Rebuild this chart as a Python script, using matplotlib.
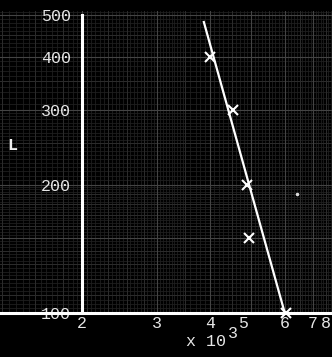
import numpy as np
import matplotlib
matplotlib.use("Agg")
import matplotlib.pyplot as plt
from matplotlib.transforms import ScaledTranslation

# Data
x_points = [4.0, 4.53, 4.89, 4.94, 6.04]      # x 10^3
l_points = [400, 300, 200, 150, 100]
fit_x = [3.87, 6.0]
fit_l = [482, 100]
speck_x = [6.41]
speck_l = [190]

x_ticks = [2, 3, 4, 5, 6, 7]
x_ticklabels = ["2", "3", "4", "5", "6", "7"]
y_ticks = [100, 200, 300, 400, 500]
y_ticklabels = ["100", "200", "300", "400", "500"]

W, H = 332, 357
fig = plt.figure(figsize=(W / 100, H / 100), dpi=100, facecolor="black")

# axes geometry (pixels): x=2 at px 82, 425 px/decade; y=100 at px 313, 426 px/decade
px_dec_x, px_dec_y = 425.0, 426.0
left_px, right_px = 0, 352
top_px, bot_px = 11, 313
x_lo = 2 * 10 ** ((left_px - 82) / px_dec_x)
x_hi = 2 * 10 ** ((right_px - 82) / px_dec_x)
y_lo = 100
y_hi = 100 * 10 ** ((bot_px - top_px) / px_dec_y)

ax = fig.add_axes([left_px / W, (H - bot_px) / H, (right_px - left_px) / W, (bot_px - top_px) / H])
ax.set_facecolor("black")
ax.set_xscale("log")
ax.set_yscale("log")
ax.set_xlim(x_lo, x_hi)
ax.set_ylim(y_lo, y_hi)

# graph-paper grid
fine_x = np.concatenate([np.arange(1.3, 3.5, 0.05), np.arange(3.5, 9.0, 0.1)])
fine_y = np.concatenate([np.arange(100, 200, 2.5), np.arange(200, 300, 5), np.arange(300, 520, 10)])
for v in fine_x:
    ax.axvline(v, color="#1f1f1f", lw=0.6, zorder=0)
for v in fine_y:
    ax.axhline(v, color="#1f1f1f", lw=0.6, zorder=0)
med_x = np.concatenate([np.arange(1.3, 3.0, 0.25), np.arange(3.0, 9.0, 0.5)])
med_y = np.concatenate([np.arange(100, 200, 10), np.arange(200, 520, 50)])
for v in med_x:
    ax.axvline(v, color="#2c2c2c", lw=0.7, zorder=0)
for v in med_y:
    ax.axhline(v, color="#2c2c2c", lw=0.7, zorder=0)
for v in x_ticks + [8]:
    ax.axvline(v, color="#444444", lw=0.8, zorder=0)
for v in [150] + y_ticks:
    ax.axhline(v, color="#444444", lw=0.8, zorder=0)

# axes lines
for s in ["top", "right"]:
    ax.spines[s].set_visible(False)
ax.spines["left"].set_position(("data", 2))
ax.spines["left"].set_bounds(100, 500)
ax.spines["bottom"].set_position(("data", 100))
ax.spines["left"].set_color("white")
ax.spines["bottom"].set_color("white")
ax.spines["left"].set_linewidth(2.2)
ax.spines["bottom"].set_linewidth(2.2)
ax.spines["bottom"].set_zorder(5)
ax.spines["left"].set_zorder(5)

font = dict(family=["Liberation Mono", "DejaVu Sans Mono"], size=12)
ax.set_xticks(x_ticks)
ax.set_xticklabels(x_ticklabels, **font, color="#e6e6e6")
ax.set_yticks(y_ticks)
ax.set_yticklabels(y_ticklabels, **font, color="#e6e6e6")
ax.minorticks_off()
ax.tick_params(axis="both", length=0)
ax.tick_params(axis="y", pad=8)
ax.tick_params(axis="x", pad=2)
# hand-lettered "5" sits a little left of its gridline
lbl5 = ax.get_xticklabels()[3]
lbl5.set_transform(lbl5.get_transform() + ScaledTranslation(-0.08, 0, fig.dpi_scale_trans))

# "8" is at the right edge of the sheet
fig.text(326 / W, 1 - 323 / H, "8", ha="center", va="center", color="#e6e6e6", **font)

# fitted line and points
ax.plot(fit_x, fit_l, color="white", lw=1.6, zorder=6, clip_on=False)
ax.plot(x_points, l_points, ls="none", marker="x", ms=7, mew=1.5, color="white", zorder=7, clip_on=False)
ax.plot(speck_x, speck_l, ls="none", marker="o", ms=1.5, color="#dddddd", zorder=7)

# labels
fig.text(12 / W, 1 - 145 / H, "L", ha="center", va="center", color="#f0f0f0",
         family=["Liberation Mono", "DejaVu Sans Mono"], size=12, weight="bold")
fig.text(226 / W, 1 - 342 / H, "x 10", ha="right", va="center", color="#e6e6e6", **font)
fig.text(228 / W, 1 - 334 / H, "3", ha="left", va="center", color="#e6e6e6", **font)

fig.savefig("out.png", dpi=100, facecolor="black")
